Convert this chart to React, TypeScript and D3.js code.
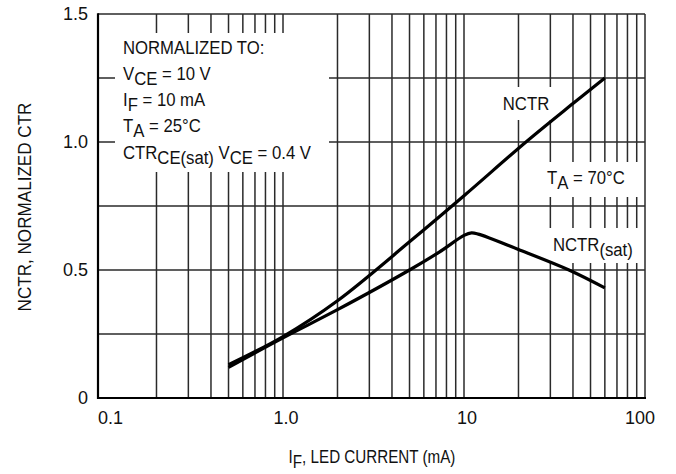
import React, { useEffect, useRef } from 'react';
import * as d3 from 'd3';

// LED current (mA) vs normalized CTR
const nctrCurrent = [0.5, 1.0, 2.0, 5.0, 10, 22, 40, 60];
const nctrValue = [0.13, 0.24, 0.38, 0.61, 0.79, 1.0, 1.15, 1.25];

const satCurrent = [0.5, 1.0, 2.0, 5.0, 7.3, 10, 11, 12, 20, 38, 60];
const satValue = [0.12, 0.235, 0.345, 0.5, 0.57, 0.635, 0.645, 0.64, 0.58, 0.5, 0.43];

const xTicks = [0.1, 1, 10, 100];
const xTickLabels = ['0.1', '1.0', '10', '100'];
const yTicks = [0, 0.5, 1.0, 1.5];
const yTickLabels = ['0', '0.5', '1.0', '1.5'];
const yGrid = [0.25, 0.5, 0.75, 1.0, 1.25];

const FONT = '"Liberation Sans", Arial, Helvetica, sans-serif';
const SQUEEZE = 0.88;

export default function App() {
  const svgRef = useRef<SVGSVGElement | null>(null);

  useEffect(() => {
    if (!svgRef.current) return;
    const svg = d3.select(svgRef.current);
    svg.selectAll('*').remove();

    const width = 676;
    const height = 474;
    const axisX = 98;
    const left = 102;
    const right = 645;
    const top = 14;
    const bottom = 398;

    const x = d3.scaleLog().domain([0.1, 100]).range([left, right]);
    const y = d3.scaleLinear().domain([0, 1.5]).range([bottom, top]);

    svg.attr('width', width).attr('height', height);
    svg.append('rect').attr('width', width).attr('height', height).attr('fill', '#fff');

    // grid
    const minor: number[] = [];
    [0.1, 1, 10].forEach(d => {
      for (let k = 2; k <= 9; k++) minor.push(d * k);
    });
    const grid = svg.append('g').attr('stroke', '#2a2a2a').attr('stroke-width', 1.5);
    grid.selectAll('.vx')
      .data([...minor, 1, 10])
      .enter()
      .append('line')
      .attr('x1', d => x(d))
      .attr('x2', d => x(d))
      .attr('y1', top)
      .attr('y2', bottom);
    grid.selectAll('.hy')
      .data(yGrid)
      .enter()
      .append('line')
      .attr('x1', axisX)
      .attr('x2', right)
      .attr('y1', d => y(d))
      .attr('y2', d => y(d));

    // frame
    svg.append('line').attr('x1', axisX).attr('x2', right).attr('y1', top).attr('y2', top)
      .attr('stroke', '#2a2a2a').attr('stroke-width', 1.5);
    svg.append('line').attr('x1', right).attr('x2', right).attr('y1', top).attr('y2', bottom)
      .attr('stroke', '#2a2a2a').attr('stroke-width', 1.5);

    // white boxes behind annotations
    const boxes = [
      [115, 33, 214, 139],
      [495, 87, 65, 33],
      [535, 162, 108, 35],
      [545, 228, 98, 35],
    ];
    svg.append('g').selectAll('rect')
      .data(boxes)
      .enter()
      .append('rect')
      .attr('x', d => d[0])
      .attr('y', d => d[1])
      .attr('width', d => d[2])
      .attr('height', d => d[3])
      .attr('fill', '#fff');

    // axes
    svg.append('line').attr('x1', axisX).attr('x2', axisX).attr('y1', top - 0.7).attr('y2', bottom + 1)
      .attr('stroke', '#000').attr('stroke-width', 2.2);
    svg.append('line').attr('x1', axisX - 1).attr('x2', right + 1).attr('y1', bottom).attr('y2', bottom)
      .attr('stroke', '#000').attr('stroke-width', 2.2);

    // curves
    const line = d3.line<[number, number]>()
      .x(d => x(d[0]))
      .y(d => y(d[1]))
      .curve(d3.curveCatmullRom.alpha(0.5));

    const nctr = nctrCurrent.map((c, i) => [c, nctrValue[i]] as [number, number]);
    const sat = satCurrent.map((c, i) => [c, satValue[i]] as [number, number]);
    [nctr, sat].forEach(series => {
      svg.append('path')
        .datum(series)
        .attr('fill', 'none')
        .attr('stroke', '#000')
        .attr('stroke-width', 3.2)
        .attr('stroke-linejoin', 'round')
        .attr('d', line);
    });

    const txt = svg.append('g').attr('font-family', FONT).attr('fill', '#111');

    // tick labels
    txt.selectAll('.xl')
      .data(xTicks)
      .enter()
      .append('text')
      .attr('x', (d, i) => (i === 0 ? axisX : x(d) + (i === 3 ? -5 : 3)))
      .attr('y', 424)
      .attr('text-anchor', (d, i) => (i === 0 ? 'start' : 'middle'))
      .attr('font-size', 18)
      .text((d, i) => xTickLabels[i]);

    txt.selectAll('.yl')
      .data(yTicks)
      .enter()
      .append('text')
      .attr('x', 88)
      .attr('y', d => y(d) + 6)
      .attr('text-anchor', 'end')
      .attr('font-size', 18)
      .text((d, i) => yTickLabels[i]);

    // axis titles
    txt.append('text')
      .attr('transform', 'translate(31, 207) rotate(-90) scale(0.9, 1)')
      .attr('text-anchor', 'middle')
      .attr('font-size', 19)
      .text('NCTR, NORMALIZED CTR');

    // text with subscripts, squeezed horizontally like the datasheet's condensed face
    const sub = (xPos: number, yPos: number, parts: [string, boolean][], size = 19, sx = SQUEEZE, anchor = 'start') => {
      const t = txt.append('text')
        .attr('transform', `translate(${xPos}, ${yPos}) scale(${sx}, 1)`)
        .attr('font-size', size)
        .attr('text-anchor', anchor);
      let low = false;
      parts.forEach(([s, isSub]) => {
        const span = t.append('tspan').text(s);
        if (isSub && !low) span.attr('dy', 5);
        if (!isSub && low) span.attr('dy', -5);
        low = isSub;
      });
    };

    sub(372, 463, [['I', false], ['F', true], [', LED CURRENT (mA)', false]], 19, 0.8, 'middle');

    sub(123, 54, [['NORMALIZED TO:', false]]);
    sub(123, 80, [['V', false], ['CE', true], [' = 10 V', false]]);
    sub(123, 106, [['I', false], ['F', true], [' = 10 mA', false]]);
    sub(123, 132, [['T', false], ['A', true], [' = 25°C', false]]);
    sub(123, 159, [['CTR', false], ['CE(sat)', true], [' V', false], ['CE', true], [' = 0.4 V', false]]);

    sub(526, 110, [['NCTR', false]], 19, SQUEEZE, 'middle');
    sub(547, 184, [['T', false], ['A', true], [' = 70°C', false]]);
    sub(553, 251, [['NCTR', false], ['(sat)', true]]);
  }, []);

  return <svg ref={svgRef} style={{ position: 'absolute', left: 0, top: 0 }} />;
}
